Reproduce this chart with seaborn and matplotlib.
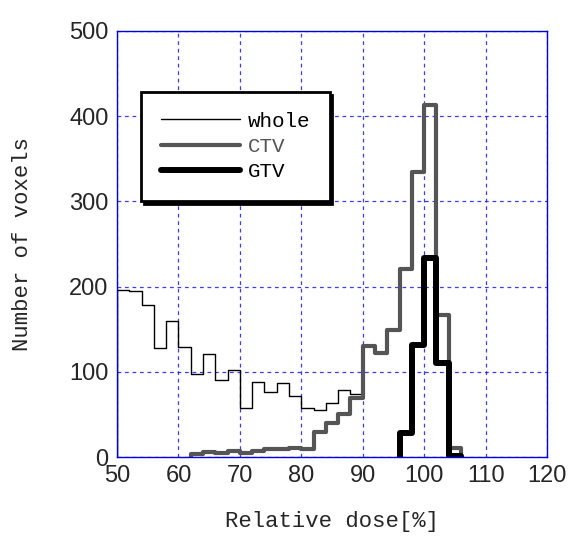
import numpy as np
import pandas as pd
import matplotlib
matplotlib.use("Agg")
import matplotlib.pyplot as plt
from matplotlib.lines import Line2D
import seaborn as sns

# ---- data ----
whole_start = 50
whole_counts = [196, 195, 178, 128, 160, 129, 98, 121, 91, 102,
                57, 88, 76, 87, 72, 58, 55, 63, 79, 74,
                130, 122, 149, 221, 334, 413, 167, 11]

ctv_start = 62
ctv_counts = [4, 6, 5, 7, 5, 7, 10, 10, 11, 10, 30, 40, 51, 69,
              130, 122, 149, 221, 334, 413, 167, 11]

gtv_start = 96
gtv_counts = [28, 131, 234, 110, 1]

bin_width = 2
x_ticks = [50, 60, 70, 80, 90, 100, 110, 120]
y_ticks = [0, 100, 200, 300, 400, 500]
series_names = ["whole", "CTV", "GTV"]
series_colors = ["black", "#555555", "black"]

sns.set_style("white")
plt.rcParams["font.family"] = ["Liberation Sans", "DejaVu Sans"]

fig = plt.figure(figsize=(5.71, 5.39), dpi=100)
ax = fig.add_axes([0.205, 0.152, 0.753, 0.7905])

def draw(start, counts, color, lw):
    # bins of width 2, with hair-thin empty bins at both ends so the
    # step outline drops to zero like a classic stairs histogram
    n = len(counts)
    edges = [start + bin_width * i for i in range(n + 1)]
    eps = 0.001
    edges = [start - eps] + edges + [edges[-1] + eps]
    centers = [(a + b) / 2 for a, b in zip(edges[:-1], edges[1:])]
    weights = [0] + list(counts) + [0]
    df = pd.DataFrame({"dose": centers, "n": weights})
    sns.histplot(data=df, x="dose", weights="n", bins=edges,
                 element="step", fill=False, color=color, linewidth=lw, ax=ax)

draw(whole_start, whole_counts, series_colors[0], 1.0)
draw(ctv_start, ctv_counts, series_colors[1], 3.0)
draw(gtv_start, gtv_counts, series_colors[2], 4.3)

ax.set_xlim(50, 120)
ax.set_ylim(0, 500)
ax.set_xticks(x_ticks)
ax.set_yticks(y_ticks)
ax.grid(True, color="#1a1aff", linestyle=(0, (3, 3)), linewidth=0.9, alpha=0.85)
ax.set_axisbelow(True)
for s in ax.spines.values():
    s.set_color("#0000dd")
    s.set_linewidth(1.0)
ax.tick_params(direction="in", color="#0000dd", length=5, labelsize=17,
               top=False, right=False, pad=6)

mono = ["Liberation Mono", "DejaVu Sans Mono"]
ax.set_xlabel("Relative dose[%]", family=mono, fontsize=16, labelpad=17)
ax.set_ylabel("Number of voxels", family=mono, fontsize=16, labelpad=26)

handles = [Line2D([], [], color=series_colors[0], lw=1.0),
           Line2D([], [], color=series_colors[1], lw=3.0),
           Line2D([], [], color=series_colors[2], lw=4.3)]
leg = ax.legend(handles, series_names, loc="upper left",
                bbox_to_anchor=(0.056, 0.857), frameon=True, fancybox=False,
                shadow={"color": "black", "alpha": 1.0},
                prop={"family": mono, "size": 15},
                handlelength=3.8, handletextpad=0.35, labelspacing=0.3,
                borderpad=0.95, borderaxespad=0.0)
leg.get_frame().set_edgecolor("black")
leg.get_frame().set_linewidth(2.0)
for t, c in zip(leg.get_texts(), series_colors):
    t.set_color(c)

fig.savefig("out.png", dpi=100)
